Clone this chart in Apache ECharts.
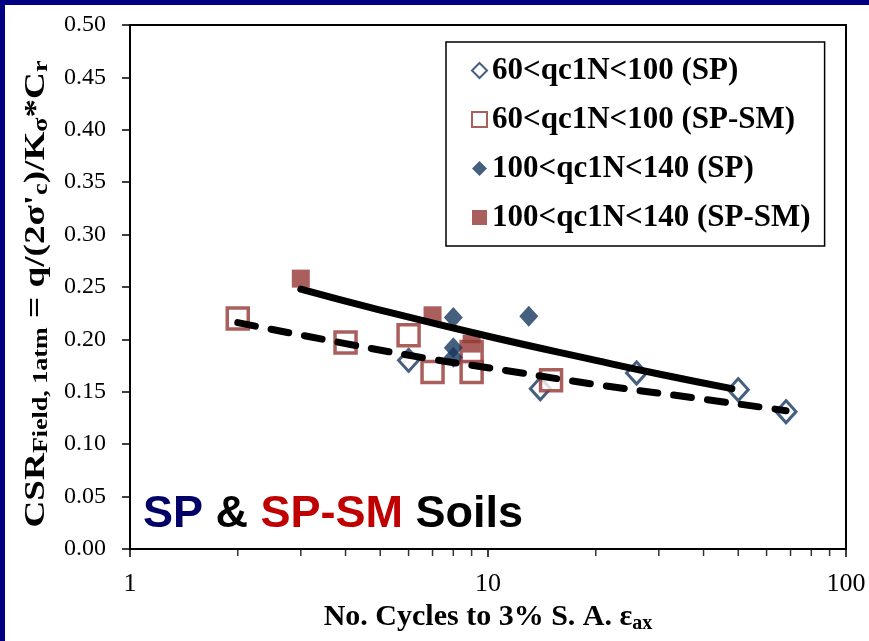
<!DOCTYPE html>
<html><head><meta charset="utf-8">
<script src="https://cdn.jsdelivr.net/npm/echarts@6/dist/echarts.min.js"></script>
<style>html,body{margin:0;padding:0;background:#fff;}#c{width:869px;height:641px;}</style>
</head><body><div id="c"></div>
<script>
// ---- data ----
const seriesNames = ['60<qc1N<100 (SP)', '60<qc1N<100 (SP-SM)', '100<qc1N<140 (SP)', '100<qc1N<140 (SP-SM)'];
const sp60 = [[6, 0.180], [14, 0.153], [26, 0.168], [50, 0.152], [68, 0.131]];
const spsm60 = [[2, 0.220], [4, 0.197], [6, 0.204], [7, 0.169], [9, 0.188], [9, 0.169], [15, 0.161]];
const sp100 = [[8, 0.221], [13, 0.222], [8, 0.192], [8, 0.183]];
const spsm100 = [[3, 0.258], [7, 0.223], [9, 0.196]];
const trendHigh = [[3, 0.248], [5, 0.228], [10, 0.203], [20, 0.180], [30, 0.167], [48, 0.153]];
const trendLow = [[2, 0.216], [4, 0.196], [7, 0.181], [10, 0.173], [20, 0.157], [40, 0.143], [68, 0.132]];
const xMinorTicks = [2, 3, 4, 5, 6, 7, 8, 9, 20, 30, 40, 50, 60, 70, 80, 90];
const yMin = 0, yMax = 0.5, yStep = 0.05;
const xMin = 1, xMax = 100;

const SERIF = '"Liberation Serif", "Times New Roman", serif';
const SANS = '"Liberation Sans", Arial, sans-serif';
const NAVY = '#17375E', RED = '#953735';

const chart = echarts.init(document.getElementById('c'), null, {renderer: 'canvas'});
chart.setOption({
  backgroundColor: '#fff',
  animation: false,
  graphic: [
    {type: 'rect', left: 0, top: 0, shape: {width: 869, height: 5}, style: {fill: '#000080'}, z: 100},
    {type: 'rect', left: 0, top: 0, shape: {width: 5, height: 641}, style: {fill: '#000080'}, z: 100},
    {
      type: 'text', x: 36, y: 294, rotation: Math.PI / 2, scaleX: 1.24, scaleY: 1, z: 50,
      style: {
        text: '{m|CSR}{s|Field, 1atm}{m| = q/(2σ\'}{s|c}{m|)/K}{s|σ}{m|*C}{s|r}',
        align: 'center', verticalAlign: 'middle',
        fontFamily: SERIF, fontWeight: 'bold', fontSize: 30, fill: '#000',
        rich: {
          m: {fontFamily: SERIF, fontWeight: 'bold', fontSize: 30, lineHeight: 33, fill: '#000'},
          s: {fontFamily: SERIF, fontWeight: 'bold', fontSize: 21, lineHeight: 23, verticalAlign: 'bottom', fill: '#000'}
        }
      }
    }
  ],
  title: {
    left: 138, top: 487,
    text: '{a|SP} {b|&} {c|SP-SM} {b|Soils}',
    textStyle: {
      fontFamily: SANS, fontWeight: 'bold', fontSize: 45, color: '#000',
      rich: {
        a: {fontFamily: SANS, fontWeight: 'bold', fontSize: 45, color: '#000066'},
        b: {fontFamily: SANS, fontWeight: 'bold', fontSize: 45, color: '#000'},
        c: {fontFamily: SANS, fontWeight: 'bold', fontSize: 45, color: '#C00000'}
      }
    }
  },
  legend: {
    data: seriesNames,
    orient: 'vertical',
    left: 446, top: 42,
    padding: [13, 14, 13, 25],
    itemGap: 18,
    itemWidth: 15, itemHeight: 15,
    backgroundColor: '#fff',
    borderColor: '#000', borderWidth: 1.5, borderRadius: 0,
    textStyle: {fontFamily: SERIF, fontWeight: 'bold', fontSize: 31, color: '#000', lineHeight: 30}
  },
  grid: {left: 130, top: 25, right: 23, bottom: 92, show: true, borderColor: '#000', borderWidth: 2, backgroundColor: 'transparent'},
  xAxis: {
    type: 'log', logBase: 10, min: xMin, max: xMax,
    axisLine: {show: true, lineStyle: {color: '#000', width: 2}},
    axisTick: {show: true, inside: false, length: 8, lineStyle: {color: '#000', width: 1.5}},
    minorTick: {show: false},
    splitLine: {show: false},
    axisLabel: {fontFamily: SERIF, fontSize: 26, color: '#000', margin: 22},
    name: '{m|No. Cycles to 3% S. A. ε}{s|ax}',
    nameLocation: 'middle', nameGap: 46,
    nameTextStyle: {
      fontFamily: SERIF, fontWeight: 'bold', fontSize: 30, color: '#000',
      rich: {
        m: {fontFamily: SERIF, fontWeight: 'bold', fontSize: 30, lineHeight: 34, color: '#000'},
        s: {fontFamily: SERIF, fontWeight: 'bold', fontSize: 20, lineHeight: 22, verticalAlign: 'bottom', color: '#000'}
      }
    }
  },
  yAxis: {
    type: 'value', min: yMin, max: yMax, interval: yStep,
    axisLine: {show: true, lineStyle: {color: '#000', width: 2}},
    axisTick: {show: true, inside: false, length: 8, lineStyle: {color: '#000', width: 1.5}},
    splitLine: {show: false},
    axisLabel: {fontFamily: SERIF, fontSize: 24, color: '#000', margin: 24, formatter: v => v.toFixed(2)}
  },
  series: [
    {name: seriesNames[0], type: 'scatter', data: sp60, symbol: 'diamond', symbolSize: [20, 22], z: 3,
     itemStyle: {color: '#fff', borderColor: NAVY, borderWidth: 3}},
    {name: seriesNames[1], type: 'scatter', data: spsm60, symbol: 'rect', symbolSize: 21, z: 3,
     itemStyle: {color: '#fff', borderColor: RED, borderWidth: 3.5}},
    {name: seriesNames[2], type: 'scatter', data: sp100, symbol: 'diamond', symbolSize: [19, 21], z: 3,
     itemStyle: {color: NAVY}},
    {name: seriesNames[3], type: 'scatter', data: spsm100, symbol: 'rect', symbolSize: 18, z: 3,
     itemStyle: {color: RED}},
    {name: 'trendHigh', type: 'line', data: trendHigh, smooth: true, symbol: 'none', z: 5, silent: true,
     lineStyle: {color: '#000', width: 7, cap: 'round'}},
    {name: 'trendLow', type: 'line', data: trendLow, smooth: true, symbol: 'none', z: 5, silent: true,
     lineStyle: {color: '#000', width: 7, type: [18, 16], cap: 'round'}},
    {name: 'minorTicks', type: 'scatter', data: xMinorTicks.map(v => [v, yMin]), symbol: 'rect',
     symbolSize: [1.5, 6], symbolOffset: [0, 4], clip: false, silent: true, z: 6,
     itemStyle: {color: '#000'}}
  ]
});
</script></body></html>
